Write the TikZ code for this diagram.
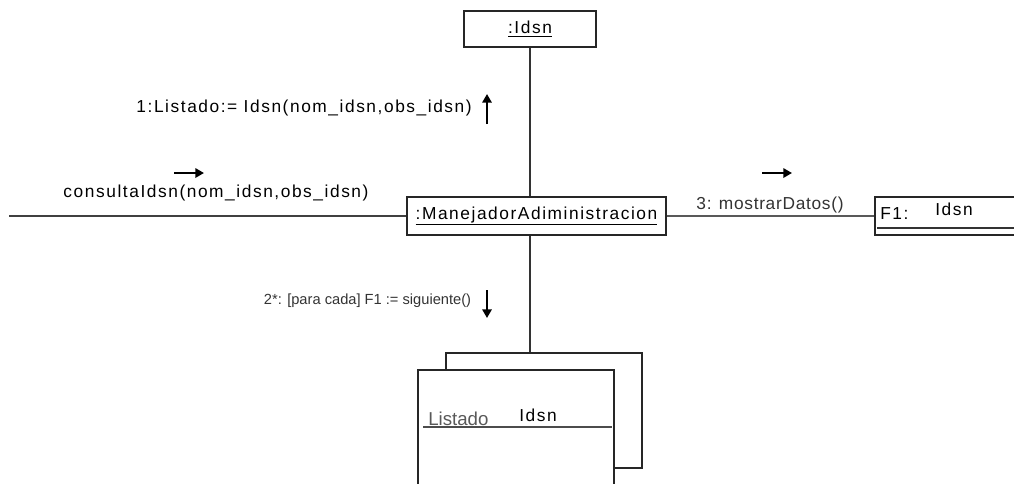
\documentclass[tikz,border=0pt]{standalone}
\usepackage{fontspec}
\setmainfont{Liberation Sans}
\newfontfamily\widefont[LetterSpace=9]{Liberation Sans}
\usetikzlibrary{arrows.meta,positioning}

\begin{document}
\begin{tikzpicture}[
  x=0.75pt, y=-0.75pt,
  obj/.style={draw=black!85, line width=1.1pt, fill=white, inner sep=0pt, minimum height=28.5pt},
  link/.style={draw=black!80, line width=1.1pt},
  lbl/.style={inner sep=0pt, font=\widefont\fontsize{13}{15}\selectfont},
  msg/.style={inner sep=0pt, text=black!80},
  dir/.style={-{Triangle[length=6.5pt,width=7pt]}, line width=1.6pt}
]
\useasboundingbox (0,0) rectangle (1014,483);
\clip (0,0) rectangle (1014,483);

% objects
\node[obj, line width=1.6pt, minimum width=99pt, minimum height=27pt] (idsn) at (530,29)
  {\widefont\fontsize{13}{15}\selectfont\underline{:Idsn}};
\node[obj, minimum width=194.25pt] (mgr) at (536.5,216)
  {\widefont\fontsize{13}{15}\selectfont\underline{:ManejadorAdiministracion}};
\node[obj, line width=1.5pt, minimum width=150pt, anchor=west] (f1) at (874,216) {};
\node[lbl, anchor=base west] (f1name) at (880,219) {F1:};
\node[lbl, anchor=base west] (f1cls) at (935,215) {Idsn};
\draw[black!80, line width=1pt] (877,228) -- (f1.east |- 0,228);

% collection of Listado
\node[obj, minimum width=147pt, minimum height=86.25pt] (back) at (544,410.5) {};
\node[obj, minimum width=147pt, minimum height=112.5pt] (front) at (516,445) {};
\node[inner sep=0pt, anchor=base west, text=black!65, font=\fontsize{14}{16}\selectfont] (lname) at (428,425) {Listado};
\node[lbl, anchor=base west] (lcls) at (519,421) {Idsn};
\draw[black!70, line width=1.4pt] (423,427) -- (612,427);

% links
\coordinate (lend) at (9,216);
\draw[link] (idsn.south) -- (idsn.south |- mgr.north);
\draw[link, draw=black!75] (lend) -- (mgr.west);
\draw[link, draw=black!65] (mgr.east) -- (f1.west);
\draw[link] (idsn.south |- mgr.south) -- (idsn.south |- back.north);

% messages
\node[lbl, anchor=east] (m1) at (472,108) {1:Listado:= Idsn(nom\_idsn,obs\_idsn)};
\coordinate (m1a) at (487,124);
\coordinate (m1b) at (487,94);
\draw[dir] (m1a) -- (m1b);

\node[lbl] (m0) at (216,193) {consultaIdsn(nom\_idsn,obs\_idsn)};
\coordinate (m0a) at (174,173);
\coordinate (m0b) at (204,173);
\draw[dir] (m0a) -- (m0b);

\node[msg, font=\addfontfeature{LetterSpace=4}\fontsize{13}{15}\selectfont] (m3) at (770,205) {3: mostrarDatos()};
\coordinate (m3a) at (762,173);
\coordinate (m3b) at (792,173);
\draw[dir] (m3a) -- (m3b);

\node[msg, font=\fontsize{11}{13}\selectfont] (m2) at (367.5,301) {2*: [para cada] F1 := siguiente()};
\coordinate (m2a) at (487,290);
\coordinate (m2b) at (487,318);
\draw[dir] (m2a) -- (m2b);

\end{tikzpicture}
\end{document}
